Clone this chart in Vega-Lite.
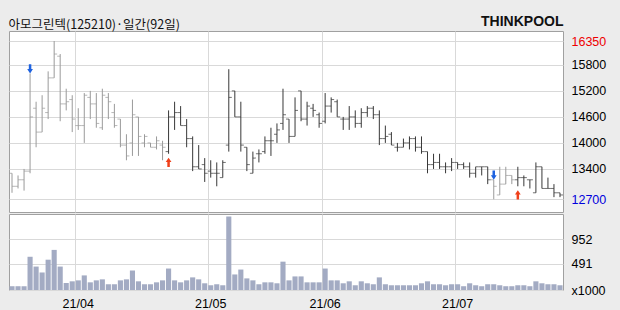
{
  "$schema": "https://vega.github.io/schema/vega-lite/v6.json",
  "background": "#ececec",
  "autosize": {"type": "pad"},
  "padding": {"left": 8, "top": 13, "right": 30, "bottom": 10},
  "title": {"text": "아모그린텍(125210)·일간(92일)", "anchor": "start", "font": "Noto Sans CJK KR", "fontSize": 12.5, "fontWeight": "normal", "color": "#111111", "baseline": "alphabetic", "offset": 0, "dy": 27.5},
  "config": {
    "view": {"stroke": "#a0a0a0", "fill": "white"},
    "axis": {"gridColor": "#d9d9d9", "gridWidth": 1, "labelFont": "Liberation Sans", "labelFontSize": 12.5, "labelColor": "#000000", "ticks": false, "domain": false, "title": null, "labelOverlap": false, "labelFlush": false}
  },
  "datasets": {
    "ohlc": [
      {"d":"2021-03-17","o":13300,"h":13300,"l":12850,"c":13000,"v":71,"s":"매도"},
      {"d":"2021-03-18","o":13000,"h":13250,"l":12950,"c":13150,"v":71,"s":"매도"},
      {"d":"2021-03-19","o":13150,"h":13400,"l":12900,"c":13350,"v":71,"s":"매도"},
      {"d":"2021-03-22","o":13350,"h":15600,"l":13300,"c":14600,"v":624,"s":"매도","sig":"매도"},
      {"d":"2021-03-23","o":14800,"h":14950,"l":13900,"c":14250,"v":440,"s":"매도"},
      {"d":"2021-03-24","o":14250,"h":15100,"l":14250,"c":14800,"v":329,"s":"매도"},
      {"d":"2021-03-25","o":14700,"h":15650,"l":14550,"c":15500,"v":569,"s":"매도"},
      {"d":"2021-03-26","o":15500,"h":16350,"l":15500,"c":16050,"v":753,"s":"매도"},
      {"d":"2021-03-29","o":16000,"h":16050,"l":14500,"c":14900,"v":440,"s":"매도"},
      {"d":"2021-03-30","o":14900,"h":15250,"l":14750,"c":14950,"v":132,"s":"매도"},
      {"d":"2021-03-31","o":15000,"h":15100,"l":14250,"c":14550,"v":163,"s":"매도"},
      {"d":"2021-04-01","o":14400,"h":14800,"l":14300,"c":14400,"v":181,"s":"매도"},
      {"d":"2021-04-02","o":14400,"h":15150,"l":14000,"c":15100,"v":274,"s":"매도"},
      {"d":"2021-04-05","o":15050,"h":15200,"l":14550,"c":14900,"v":144,"s":"매도"},
      {"d":"2021-04-06","o":14900,"h":15150,"l":14350,"c":14450,"v":181,"s":"매도"},
      {"d":"2021-04-07","o":14350,"h":15250,"l":14300,"c":15100,"v":200,"s":"매도"},
      {"d":"2021-04-08","o":15050,"h":15150,"l":14550,"c":14950,"v":108,"s":"매도"},
      {"d":"2021-04-09","o":14700,"h":14900,"l":14350,"c":14400,"v":108,"s":"매도"},
      {"d":"2021-04-12","o":14550,"h":14550,"l":13900,"c":13950,"v":181,"s":"매도"},
      {"d":"2021-04-13","o":13950,"h":14200,"l":13600,"c":13700,"v":200,"s":"매도"},
      {"d":"2021-04-14","o":14000,"h":15000,"l":13700,"c":14650,"v":366,"s":"매도"},
      {"d":"2021-04-15","o":14600,"h":14600,"l":13700,"c":14150,"v":163,"s":"매도"},
      {"d":"2021-04-16","o":14000,"h":14200,"l":13900,"c":14150,"v":108,"s":"매도"},
      {"d":"2021-04-19","o":14000,"h":14000,"l":13900,"c":13900,"v":108,"s":"매도"},
      {"d":"2021-04-20","o":13900,"h":14150,"l":13850,"c":14050,"v":144,"s":"매도"},
      {"d":"2021-04-21","o":13950,"h":14050,"l":13600,"c":13900,"v":181,"s":"매도"},
      {"d":"2021-04-22","o":13800,"h":14750,"l":13750,"c":14600,"v":403,"s":"매수","sig":"매수"},
      {"d":"2021-04-23","o":14600,"h":14950,"l":14300,"c":14700,"v":181,"s":"매수"},
      {"d":"2021-04-26","o":14700,"h":14850,"l":14400,"c":14400,"v":144,"s":"매수"},
      {"d":"2021-04-27","o":14400,"h":14550,"l":13900,"c":14100,"v":181,"s":"매수"},
      {"d":"2021-04-28","o":14100,"h":14150,"l":13350,"c":13450,"v":237,"s":"매수"},
      {"d":"2021-04-29","o":13450,"h":13950,"l":13400,"c":13400,"v":200,"s":"매수"},
      {"d":"2021-04-30","o":13500,"h":13650,"l":13100,"c":13300,"v":126,"s":"매수"},
      {"d":"2021-05-03","o":13350,"h":13600,"l":13200,"c":13300,"v":89,"s":"매수"},
      {"d":"2021-05-04","o":13300,"h":13550,"l":13000,"c":13300,"v":108,"s":"매수"},
      {"d":"2021-05-06","o":13200,"h":13600,"l":13200,"c":13550,"v":89,"s":"매수"},
      {"d":"2021-05-07","o":13950,"h":15700,"l":13800,"c":15050,"v":1380,"s":"매수"},
      {"d":"2021-05-10","o":15200,"h":15200,"l":14600,"c":14600,"v":292,"s":"매수"},
      {"d":"2021-05-11","o":14600,"h":14950,"l":13800,"c":13950,"v":384,"s":"매수"},
      {"d":"2021-05-12","o":13900,"h":13900,"l":13350,"c":13500,"v":218,"s":"매수"},
      {"d":"2021-05-13","o":13300,"h":13800,"l":13300,"c":13650,"v":181,"s":"매수"},
      {"d":"2021-05-14","o":13750,"h":13850,"l":13550,"c":13750,"v":108,"s":"매수"},
      {"d":"2021-05-17","o":13800,"h":14150,"l":13750,"c":14050,"v":144,"s":"매수"},
      {"d":"2021-05-18","o":14050,"h":14350,"l":13700,"c":14050,"v":144,"s":"매수"},
      {"d":"2021-05-20","o":14200,"h":14450,"l":14000,"c":14300,"v":126,"s":"매수"},
      {"d":"2021-05-21","o":14450,"h":15250,"l":14300,"c":14650,"v":532,"s":"매수"},
      {"d":"2021-05-24","o":14550,"h":14550,"l":14000,"c":14150,"v":181,"s":"매수"},
      {"d":"2021-05-25","o":14150,"h":15050,"l":14150,"c":14750,"v":255,"s":"매수"},
      {"d":"2021-05-26","o":15200,"h":15200,"l":14500,"c":14550,"v":255,"s":"매수"},
      {"d":"2021-05-27","o":14550,"h":14950,"l":14400,"c":14850,"v":144,"s":"매수"},
      {"d":"2021-05-28","o":14800,"h":14900,"l":14600,"c":14750,"v":144,"s":"매수"},
      {"d":"2021-05-31","o":14650,"h":14700,"l":14350,"c":14450,"v":144,"s":"매수"},
      {"d":"2021-06-01","o":14500,"h":15150,"l":14450,"c":14850,"v":403,"s":"매수"},
      {"d":"2021-06-02","o":14850,"h":15050,"l":14700,"c":15000,"v":181,"s":"매수"},
      {"d":"2021-06-03","o":14950,"h":15000,"l":14600,"c":14600,"v":181,"s":"매수"},
      {"d":"2021-06-04","o":14550,"h":14600,"l":14300,"c":14550,"v":126,"s":"매수"},
      {"d":"2021-06-07","o":14550,"h":14850,"l":14300,"c":14600,"v":163,"s":"매수"},
      {"d":"2021-06-08","o":14600,"h":14750,"l":14350,"c":14450,"v":89,"s":"매수"},
      {"d":"2021-06-09","o":14450,"h":14800,"l":14350,"c":14700,"v":163,"s":"매수"},
      {"d":"2021-06-10","o":14700,"h":14850,"l":14600,"c":14800,"v":126,"s":"매수"},
      {"d":"2021-06-11","o":14800,"h":14850,"l":14550,"c":14650,"v":108,"s":"매수"},
      {"d":"2021-06-14","o":14650,"h":14750,"l":13950,"c":14100,"v":237,"s":"매수"},
      {"d":"2021-06-15","o":14100,"h":14400,"l":14000,"c":14150,"v":108,"s":"매수"},
      {"d":"2021-06-16","o":14200,"h":14250,"l":13950,"c":13950,"v":89,"s":"매수"},
      {"d":"2021-06-17","o":13900,"h":14000,"l":13800,"c":13900,"v":89,"s":"매수"},
      {"d":"2021-06-18","o":13900,"h":14100,"l":13900,"c":14000,"v":89,"s":"매수"},
      {"d":"2021-06-21","o":14000,"h":14150,"l":13850,"c":14100,"v":89,"s":"매수"},
      {"d":"2021-06-22","o":14100,"h":14150,"l":13800,"c":13900,"v":89,"s":"매수"},
      {"d":"2021-06-23","o":13900,"h":14150,"l":13750,"c":13800,"v":126,"s":"매수"},
      {"d":"2021-06-24","o":13800,"h":13800,"l":13300,"c":13500,"v":163,"s":"매수"},
      {"d":"2021-06-25","o":13500,"h":13750,"l":13400,"c":13550,"v":108,"s":"매수"},
      {"d":"2021-06-28","o":13550,"h":13750,"l":13400,"c":13450,"v":108,"s":"매수"},
      {"d":"2021-06-29","o":13450,"h":13550,"l":13300,"c":13450,"v":89,"s":"매수"},
      {"d":"2021-06-30","o":13450,"h":13650,"l":13350,"c":13550,"v":108,"s":"매수"},
      {"d":"2021-07-01","o":13550,"h":13550,"l":13400,"c":13500,"v":108,"s":"매수"},
      {"d":"2021-07-02","o":13500,"h":13550,"l":13400,"c":13450,"v":71,"s":"매수"},
      {"d":"2021-07-05","o":13450,"h":13550,"l":13200,"c":13300,"v":126,"s":"매수"},
      {"d":"2021-07-06","o":13300,"h":13450,"l":13200,"c":13450,"v":89,"s":"매수"},
      {"d":"2021-07-07","o":13450,"h":13450,"l":13250,"c":13450,"v":71,"s":"매수"},
      {"d":"2021-07-08","o":13450,"h":13450,"l":13050,"c":13150,"v":108,"s":"매수"},
      {"d":"2021-07-09","o":13150,"h":13150,"l":12700,"c":13000,"v":108,"s":"매도","sig":"매도"},
      {"d":"2021-07-12","o":12800,"h":13450,"l":12800,"c":13050,"v":89,"s":"매도"},
      {"d":"2021-07-13","o":13050,"h":13450,"l":13050,"c":13250,"v":71,"s":"매도"},
      {"d":"2021-07-14","o":13250,"h":13250,"l":13050,"c":13150,"v":71,"s":"매도"},
      {"d":"2021-07-15","o":13150,"h":13450,"l":13000,"c":13200,"v":89,"s":"매수","sig":"매수"},
      {"d":"2021-07-16","o":13200,"h":13250,"l":13000,"c":13200,"v":89,"s":"매수"},
      {"d":"2021-07-19","o":13150,"h":13150,"l":12950,"c":13150,"v":71,"s":"매수"},
      {"d":"2021-07-20","o":12850,"h":13550,"l":12850,"c":13450,"v":163,"s":"매수"},
      {"d":"2021-07-21","o":13450,"h":13450,"l":12950,"c":12950,"v":126,"s":"매수"},
      {"d":"2021-07-22","o":12950,"h":13200,"l":12950,"c":12950,"v":108,"s":"매수"},
      {"d":"2021-07-23","o":12950,"h":13050,"l":12750,"c":12850,"v":108,"s":"매수"},
      {"d":"2021-07-26","o":12850,"h":12850,"l":12750,"c":12800,"v":89,"s":"매수"}
    ]
  },
  "data": {"name": "ohlc"},
  "spacing": 0,
  "vconcat": [
    {
      "width": 554,
      "height": 181,
      "encoding": {
        "x": {"field": "d", "type": "ordinal", "scale": {"paddingInner": 0.15, "paddingOuter": 0.075},
              "axis": {"orient": "top", "values": ["2021-04-01", "2021-05-03", "2021-06-01", "2021-07-01"], "bandPosition": 0, "labels": false, "ticks": false, "domain": false, "grid": true,
                       "title": "THINKPOOL", "titleAnchor": "end", "titleAlign": "right", "titlePadding": 6, "titleBaseline": "alphabetic", "titleFont": "Liberation Sans", "titleFontSize": 14, "titleFontWeight": "bold", "titleColor": "#111111"}}
      },
      "layer": [
        {
          "mark": {"type": "rule", "strokeWidth": 1},
          "encoding": {
            "y": {"field": "l", "type": "quantitative", "scale": {"domain": [12407, 16581], "nice": false, "zero": false},
                  "axis": {"orient": "right", "values": [12700, 13400, 14000, 14600, 15200, 15800, 16350], "tickCount": 20, "format": "d", "labelAlign": "left", "labelPadding": 8, "labelBaseline": "middle", "labelOverlap": false, "grid": true, "title": null,
                           "labelColor": {"condition": [{"test": "datum.value == 16350", "value": "#ee0000"}, {"test": "datum.value == 12700", "value": "#0000dd"}], "value": "#000000"}}},
            "y2": {"field": "h"},
            "color": {"field": "s", "type": "nominal", "scale": {"domain": ["매도", "매수"], "range": ["#9a9a9a", "#383838"]}, "legend": null}
          }
        },
        {
          "mark": {"type": "tick", "size": 3, "thickness": 1, "xOffset": -1.5},
          "encoding": {
            "y": {"field": "o", "type": "quantitative"},
            "color": {"field": "s", "type": "nominal", "legend": null}
          }
        },
        {
          "mark": {"type": "tick", "size": 3, "thickness": 1, "xOffset": 1.5},
          "encoding": {
            "y": {"field": "c", "type": "quantitative"},
            "color": {"field": "s", "type": "nominal", "legend": null}
          }
        },
        {
          "transform": [{"filter": "datum.sig == '매도'"}],
          "mark": {"type": "point", "shape": "M-0.27,-1L0.27,-1L0.27,0.05L0.62,0.05L0,1L-0.62,0.05L-0.27,0.05Z", "filled": true, "size": 86, "color": "#1f63e0", "opacity": 1, "yOffset": -4.7},
          "encoding": {"y": {"field": "h", "type": "quantitative"}}
        },
        {
          "transform": [{"filter": "datum.sig == '매수'"}],
          "mark": {"type": "point", "shape": "M-0.27,1L0.27,1L0.27,-0.05L0.62,-0.05L0,-1L-0.62,-0.05L-0.27,-0.05Z", "filled": true, "size": 86, "color": "#f0401a", "opacity": 1, "yOffset": 8.5},
          "encoding": {"y": {"field": "l", "type": "quantitative"}}
        }
      ]
    },
    {
      "width": 554,
      "height": 76,
      "mark": {"type": "bar", "color": "#a3abc3"},
      "encoding": {
        "x": {"field": "d", "type": "ordinal", "scale": {"paddingInner": 0.15, "paddingOuter": 0.075},
              "axis": {"values": ["2021-04-01", "2021-05-03", "2021-06-01", "2021-07-01"], "bandPosition": 0, "labelExpr": "'21/' + slice(datum.value, 5, 7)", "labelAngle": 0, "labelPadding": 7, "labelBaseline": "top", "ticks": false, "domain": false, "grid": true, "title": null}},
        "y": {"field": "v", "type": "quantitative", "scale": {"domain": [0, 1427], "nice": false},
              "axis": {"orient": "right", "values": [0, 491, 952], "tickCount": 20, "format": "d", "labelExpr": "datum.value == 0 ? 'x1000' : datum.label", "labelAlign": "left", "labelPadding": 8, "labelBaseline": "middle", "labelOverlap": false, "grid": true, "title": null}}
      }
    }
  ]
}
